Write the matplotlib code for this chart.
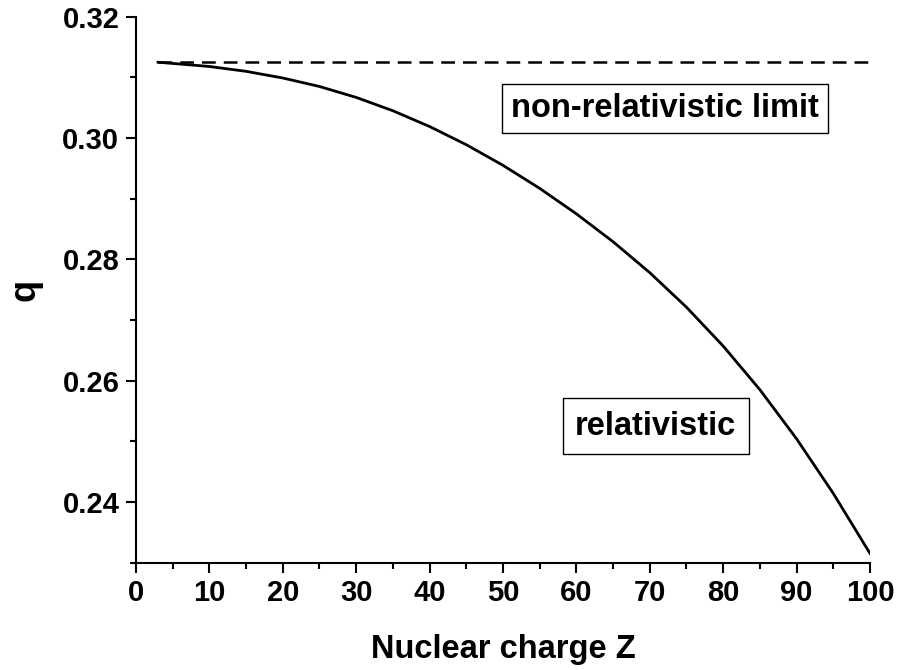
import matplotlib
matplotlib.use('Agg')
import matplotlib.pyplot as plt
from matplotlib.ticker import MultipleLocator

plt.rcParams['font.family'] = ['Liberation Sans', 'DejaVu Sans']
plt.rcParams['font.weight'] = 'bold'

# q vs nuclear charge Z
Z = [3, 10, 15, 20, 25, 30, 35, 40, 45, 50, 55, 60, 65, 70, 75, 80, 85, 90, 95, 100]
q = [0.3125, 0.3118, 0.3110, 0.3099, 0.3085, 0.3067, 0.3045, 0.3019, 0.2989, 0.2955,
     0.2917, 0.2875, 0.2829, 0.2778, 0.2721, 0.2657, 0.2585, 0.2504, 0.2414, 0.2315]

# non-relativistic limit
Z_limit = [3, 100]
q_limit = [0.3125, 0.3125]

fig = plt.figure(figsize=(8.98, 6.70), dpi=100)
ax = fig.add_axes([0.1514, 0.1604, 0.8174, 0.8146])

ax.plot(Z, q, color='black', linewidth=2)
ax.plot(Z_limit, q_limit, color='black', linewidth=1.8, linestyle=(0, (5.5, 3.2)))

ax.set_xlim(0, 100)
ax.set_ylim(0.23, 0.32)
ax.xaxis.set_major_locator(MultipleLocator(10))
ax.xaxis.set_minor_locator(MultipleLocator(5))
ax.yaxis.set_major_locator(MultipleLocator(0.02))
ax.yaxis.set_minor_locator(MultipleLocator(0.01))
ax.yaxis.set_major_formatter(plt.FormatStrFormatter('%.2f'))

ax.spines['top'].set_visible(False)
ax.spines['right'].set_visible(False)
for s in ('left', 'bottom'):
    ax.spines[s].set_linewidth(1.5)

ax.tick_params(which='major', direction='out', length=7, width=1.5, labelsize=21, pad=5)
ax.tick_params(which='minor', direction='out', length=4, width=1.5)

ax.set_xlabel('Nuclear charge Z', fontsize=23.5, fontweight='bold', labelpad=19)
ax.set_ylabel('q', fontsize=26, fontweight='bold', labelpad=14)

ax.text(72.1, 0.3049, 'non-relativistic limit', fontsize=23.5, fontweight='bold',
        ha='center', va='center',
        bbox=dict(boxstyle='square,pad=0.28', facecolor='white', edgecolor='black', linewidth=1))
ax.text(70.8, 0.2525, 'relativistic', fontsize=23.5, fontweight='bold',
        ha='center', va='center',
        bbox=dict(boxstyle='square,pad=0.38', facecolor='white', edgecolor='black', linewidth=1))

fig.savefig('out.png', dpi=100, facecolor='white')
